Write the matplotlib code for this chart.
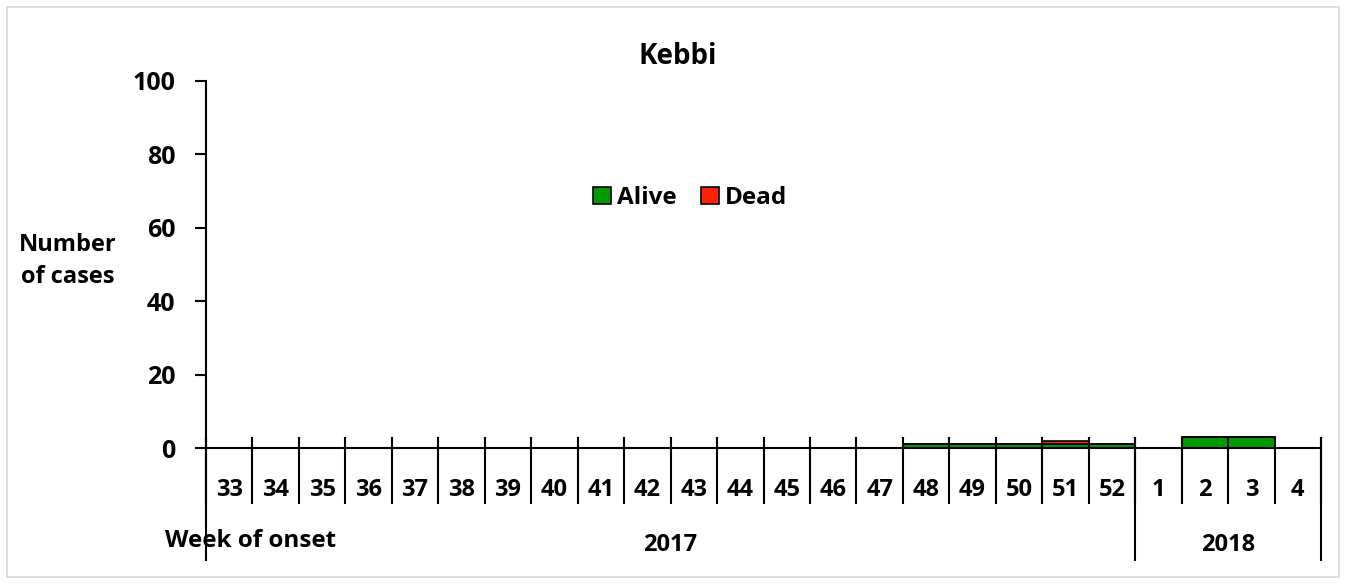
import numpy as np
import matplotlib.pyplot as plt
from matplotlib.patches import Rectangle
from matplotlib.transforms import blended_transform_factory

weeks = ['33', '34', '35', '36', '37', '38', '39', '40', '41', '42', '43', '44',
         '45', '46', '47', '48', '49', '50', '51', '52', '1', '2', '3', '4']
alive = [0, 0, 0, 0, 0, 0, 0, 0, 0, 0, 0, 0, 0, 0, 0, 1, 1, 1, 1, 1, 0, 3, 3, 0]
dead = [0, 0, 0, 0, 0, 0, 0, 0, 0, 0, 0, 0, 0, 0, 0, 0, 0, 0, 1, 0, 0, 0, 0, 0]
years = ['2017', '2018']
year_counts = [20, 4]

plt.rcParams['font.family'] = ['Open Sans', 'DejaVu Sans']
plt.rcParams['font.weight'] = 'bold'

W, H = 1346, 584
fig = plt.figure(figsize=(W / 100, H / 100), dpi=100)
ax = fig.add_axes([206 / W, 1 - 448 / H, (1321 - 206) / W, (448 - 81) / H])

x = np.arange(len(weeks))
b1 = ax.bar(x, alive, 1.0, color='#009900', edgecolor='black', linewidth=1.2)
b2 = ax.bar(x, dead, 1.0, bottom=alive, color='#ff2200', edgecolor='black', linewidth=1.2)

ax.set_xlim(-0.5, len(weeks) - 0.5)
ax.set_ylim(0, 100)
ax.set_yticks([0, 20, 40, 60, 80, 100])
ax.tick_params(axis='y', direction='out', length=8, width=1.5, labelsize=18, pad=14)
for t in ax.get_yticklabels():
    t.set_fontweight('bold')
ax.set_xticks([])
for s in ['top', 'right']:
    ax.spines[s].set_visible(False)
ax.spines['left'].set_linewidth(1.5)
ax.spines['bottom'].set_linewidth(1.5)

tr = blended_transform_factory(ax.transData, ax.transAxes)
# week boundaries
for b in np.arange(len(weeks) + 1) - 0.5:
    ax.plot([b, b], [0.027, -0.15], color='black', lw=1.5, transform=tr, clip_on=False)
# week labels
for i, w in enumerate(weeks):
    ax.text(i, -0.115, w, transform=tr, ha='center', va='center', fontsize=17, fontweight='bold')
# year separators and labels
start = 0
edges = [-0.5]
for y, c in zip(years, year_counts):
    edges.append(start + c - 0.5)
    ax.text(start + (c - 1) / 2, -0.265, y, transform=tr, ha='center', va='center',
            fontsize=17, fontweight='bold')
    start += c
for e in edges:
    ax.plot([e, e], [0.027, -0.305], color='black', lw=1.5, transform=tr, clip_on=False)

fig.text(678 / W, 1 - 57 / H, 'Kebbi', ha='center', va='center', fontsize=20, fontweight='bold')
fig.text(68 / W, 1 - 261 / H, 'Number\nof cases', ha='center', va='center', fontsize=17,
         fontweight='bold', linespacing=1.4)
fig.text(165 / W, 1 - 541 / H, 'Week of onset', ha='left', va='center', fontsize=17.5,
         fontweight='bold')

leg = fig.legend((b1[0], b2[0]), ('Alive', 'Dead'), loc='center', ncol=2,
                 bbox_to_anchor=(690 / W, 1 - 198 / H), frameon=False, fontsize=17.5,
                 handlelength=0.75, handleheight=0.75, handletextpad=0.25, columnspacing=1.0)
for t in leg.get_texts():
    t.set_fontweight('bold')

fig.patches.append(Rectangle((7 / W, 7 / H), (W - 14) / W, (H - 14) / H, transform=fig.transFigure,
                             fill=False, edgecolor='#d9d9d9', linewidth=1.2))

fig.savefig('out.png', dpi=100)
